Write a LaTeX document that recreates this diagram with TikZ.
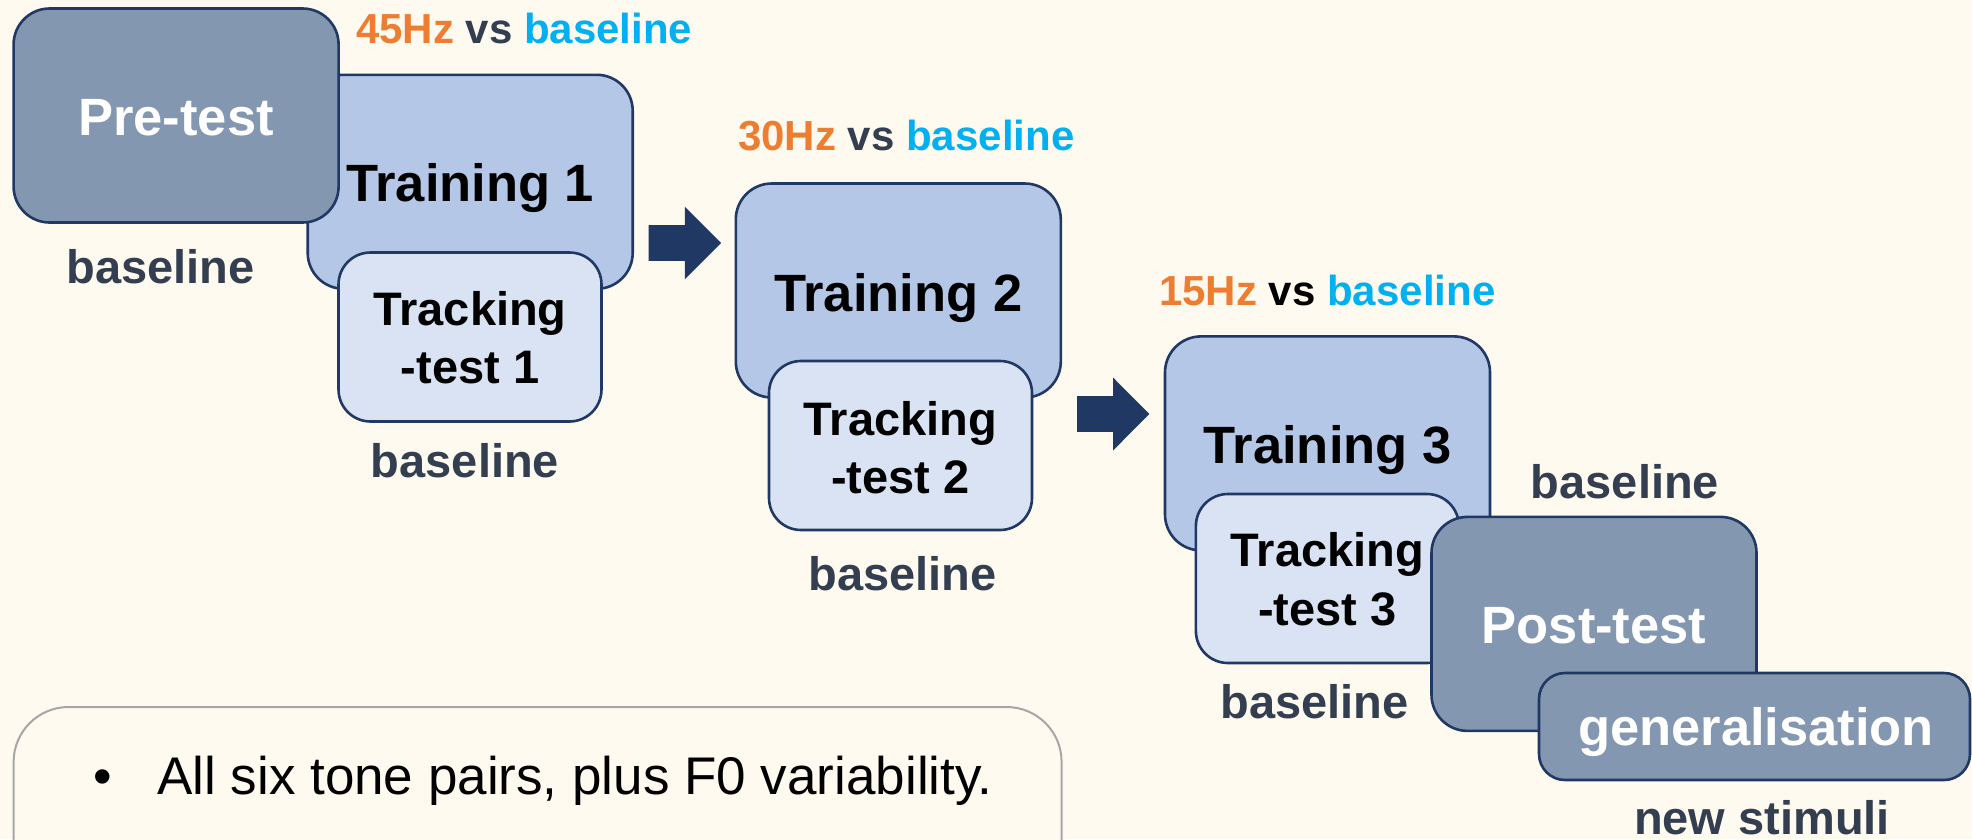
\documentclass[tikz,border=0pt]{standalone}
\usepackage{fontspec}
\setmainfont{Liberation Sans}
\definecolor{bgc}{HTML}{FFFAEF}
\definecolor{darkc}{HTML}{8497B0}
\definecolor{midc}{HTML}{B4C7E7}
\definecolor{lightc}{HTML}{DAE3F3}
\definecolor{edgec}{HTML}{203864}
\definecolor{labc}{HTML}{333F50}
\definecolor{orc}{HTML}{ED7D31}
\definecolor{cyc}{HTML}{00B0F0}
\definecolor{arrc}{HTML}{203864}
\definecolor{greyc}{HTML}{A6A6A6}
\begin{document}
\begin{tikzpicture}[x=1pt,y=-1pt,
  box/.style={draw=edgec, line width=2.6pt, rounded corners=#1, inner sep=0pt, outer sep=0pt},
  box/.default=36pt,
  bigbox/.style={box, minimum width=325pt, minimum height=214pt},
  trkbox/.style={box=32pt, fill=lightc, minimum width=263pt, minimum height=169pt},
  ttl/.style={font=\fontsize{52.5}{60}\selectfont\bfseries, inner sep=0pt, anchor=base},
  trk/.style={font=\fontsize{47}{56}\selectfont\bfseries, inner sep=0pt, anchor=base},
  lab/.style={font=\fontsize{47}{56}\selectfont\bfseries, text=labc, inner sep=0pt, anchor=base},
  hz/.style={font=\fontsize{42}{50}\selectfont\bfseries, inner sep=0pt, anchor=base west},
  blockarrow/.style={fill=arrc}]
\useasboundingbox (0,0) rectangle (1972,839);
\clip (0,0) rectangle (1972,839);
\fill[bgc] (0,0) rectangle (1972,839);

% note box at the bottom
\node[draw=greyc, line width=2pt, rounded corners=55pt, fill=bgc, minimum width=1048pt,
      minimum height=260pt, inner sep=0pt, anchor=north west] (note) at (12.6,706) {};
\node[anchor=base west, inner sep=0pt, font=\fontsize{53}{60}\selectfont] (notetxt) at (93,794)
  {\makebox[64pt][l]{\textbullet}All six tone pairs, plus F0 variability.};

% stage 1
\node[bigbox, fill=midc] (tr1) at (470.2,181.8) {};
\node[bigbox, fill=darkc] (pre) at (176.1,115.5) {};
\node[ttl, text=white] (pretxt) at (176.1,135) {Pre-test};
\node[ttl] (tr1txt) at (470.2,201.5) {Training 1};
\node[trkbox] (trk1) at (470,337) {};
\node[trk] (trk1a) at (470,325.3) {Tracking};
\node[trk] (trk1b) at (470,383.3) {-test 1};
\node[lab] (lpre) at (160.7,283) {baseline};
\node[lab] (ltrk1) at (465,477) {baseline};
\node[hz] (hz1) at (355.8,43.3) {\textcolor{orc}{45Hz} \textcolor{labc}{vs} \textcolor{cyc}{baseline}};

% arrow 1
\coordinate (a1) at (648.6,243);
\fill[blockarrow] (a1) ++(0,-17.85) -- ++(36.2,0) -- ++(0,-18.45) -- ++(36.2,36.3)
  -- ++(-36.2,36.3) -- ++(0,-18.45) -- ++(-36.2,0) -- cycle;

% stage 2
\node[bigbox, fill=midc] (tr2) at (898.3,290.5) {};
\node[ttl] (tr2txt) at (898.3,311) {Training 2};
\node[trkbox] (trk2) at (900.5,445.5) {};
\node[trk] (trk2a) at (900.5,435) {Tracking};
\node[trk] (trk2b) at (900.5,493.3) {-test 2};
\node[lab] (ltrk2) at (902.6,590) {baseline};
\node[hz] (hz2) at (738,150) {\textcolor{orc}{30Hz} \textcolor{labc}{vs} \textcolor{cyc}{baseline}};

% arrow 2
\coordinate (a2) at (1077,414);
\fill[blockarrow] (a2) ++(0,-17.85) -- ++(36.2,0) -- ++(0,-18.45) -- ++(36.2,36.3)
  -- ++(-36.2,36.3) -- ++(0,-18.45) -- ++(-36.2,0) -- cycle;

% stage 3
\node[bigbox, fill=midc] (tr3) at (1327.5,443.4) {};
\node[ttl] (tr3txt) at (1327.5,463.3) {Training 3};
\node[trkbox] (trk3) at (1327.4,578.5) {};
\node[trk] (trk3a) at (1327.4,566.7) {Tracking};
\node[trk] (trk3b) at (1327.4,625) {-test 3};
\node[lab] (ltrk3) at (1314.5,718) {baseline};
\node[lab] (ltr3) at (1625,498.3) {baseline};
\node[hz] (hz3) at (1159,305) {\textcolor{orc}{15Hz} \textcolor{black}{vs} \textcolor{cyc}{baseline}};

% post-test
\node[bigbox, fill=darkc] (post) at (1594,623.9) {};
\node[ttl, text=white] (posttxt) at (1594,643.3) {Post-test};
\node[box=26pt, fill=darkc, minimum width=431pt, minimum height=107pt] (gen) at (1754.5,726.5) {};
\node[ttl, text=white] (gentxt) at (1756,745.5) {generalisation};
\node[lab] (lgen) at (1762,834) {new stimuli};
\end{tikzpicture}
\end{document}
